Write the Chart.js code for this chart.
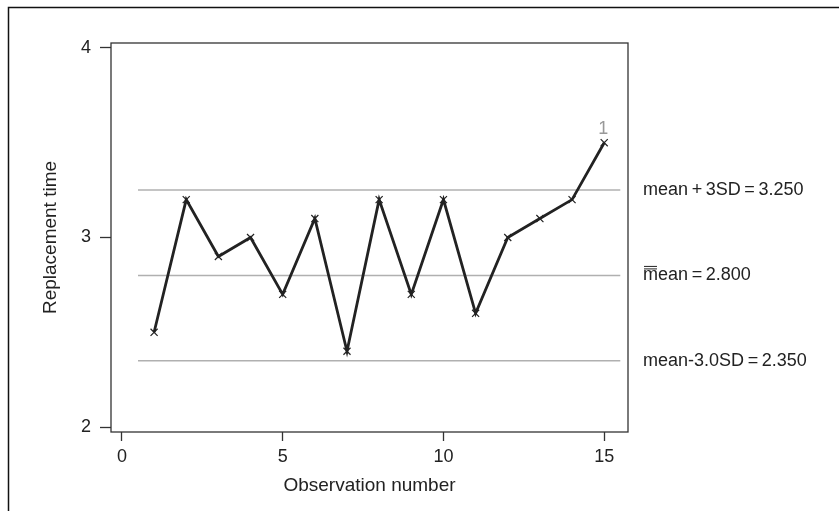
<!DOCTYPE html>
<html>
<head>
<meta charset="utf-8">
<script src="https://cdn.jsdelivr.net/npm/chart.js@4"></script>
<style>
  html, body { margin: 0; padding: 0; background: #fff; }
  #wrap { width: 839px; height: 511px; }
</style>
</head>
<body>
<div id="wrap"><canvas id="grafico"></canvas></div>
<script>
// datos
const observaciones = [1, 2, 3, 4, 5, 6, 7, 8, 9, 10, 11, 12, 13, 14, 15];
const tiempos = [2.5, 3.2, 2.9, 3.0, 2.7, 3.1, 2.4, 3.2, 2.7, 3.2, 2.6, 3.0, 3.1, 3.2, 3.5];
const limites = [3.25, 2.8, 2.35];
// espacios finos alrededor de + y = como en el original
const limitesTexto = ['mean\u2009+\u20093SD\u2009=\u20093.250', 'mean\u2009=\u20092.800', 'mean-3.0SD\u2009=\u20092.350'];
const limitesDesde = 0.5, limitesHasta = 15.5;
const xTicks = [0, 5, 10, 15];
const yTicks = [2, 3, 4];
const fuera = [{ index: 14, label: '1' }]; // punto fuera de control

const fuente = '"Liberation Sans", Arial, sans-serif';
const negro = '#222';

// marco, etiquetas de limites y marca "1"
const extras = {
  id: 'extras',
  afterDraw(chart) {
    const c = chart.ctx, a = chart.chartArea;
    const x = chart.scales.x, y = chart.scales.y;
    c.save();
    // marco exterior (solo izquierda y arriba visibles)
    c.strokeStyle = '#111';
    c.lineWidth = 1.5;
    c.beginPath();
    c.moveTo(8.5, 511); c.lineTo(8.5, 7.5); c.lineTo(839, 7.5);
    c.stroke();
    // caja del grafico
    c.strokeStyle = '#333';
    c.lineWidth = 1.3;
    c.strokeRect(a.left, a.top, a.right - a.left, a.bottom - a.top);
    // textos de limites
    c.fillStyle = negro;
    c.font = '18px ' + fuente;
    c.textBaseline = 'middle';
    c.textAlign = 'left';
    limites.forEach((v, i) => {
      const py = y.getPixelForValue(v);
      c.fillText(limitesTexto[i], 643, py);
      if (i === 1) {
        // doble barra sobre la m
        const w = c.measureText('m').width;
        c.lineWidth = 1;
        c.strokeStyle = negro;
        c.beginPath();
        c.moveTo(644, py - 6.5); c.lineTo(642 + w, py - 6.5);
        c.moveTo(644, py - 9); c.lineTo(642 + w, py - 9);
        c.stroke();
      }
    });
    // etiqueta del punto fuera de control
    c.fillStyle = '#999';
    c.textAlign = 'center';
    c.textBaseline = 'bottom';
    fuera.forEach(f => {
      c.fillText(f.label, x.getPixelForValue(observaciones[f.index]) - 1, y.getPixelForValue(tiempos[f.index]) - 5);
    });
    c.restore();
  }
};

const lineasLimite = limites.map(v => ({
  data: [{ x: limitesDesde, y: v }, { x: limitesHasta, y: v }],
  borderColor: '#b0b0b0',
  borderWidth: 1.5,
  pointRadius: 0,
  order: 2
}));

const ctx = document.getElementById('grafico');
new Chart(ctx, {
  type: 'line',
  data: {
    datasets: [
      ...lineasLimite,
      {
        data: observaciones.map((o, i) => ({ x: o, y: tiempos[i] })),
        borderColor: negro,
        borderWidth: 2.8,
        pointStyle: 'crossRot',
        pointRadius: 5,
        pointBorderWidth: 1.2,
        pointBorderColor: negro,
        order: 1
      }
    ]
  },
  options: {
    responsive: true,
    maintainAspectRatio: false,
    animation: false,
    events: [],
    layout: { padding: { left: 0, top: 43, right: 211, bottom: 0 } },
    plugins: { legend: { display: false }, tooltip: { enabled: false } },
    scales: {
      x: {
        type: 'linear',
        min: -0.34, max: 15.74,
        afterBuildTicks: s => { s.ticks = xTicks.map(v => ({ value: v })); },
        afterFit: s => { s.height = 79; },
        grid: { drawOnChartArea: false, drawTicks: true, tickLength: 9, tickColor: '#333', tickWidth: 1.3 },
        border: { display: false },
        ticks: { color: negro, font: { family: fuente, size: 18 }, padding: 5, maxRotation: 0 },
        title: { display: true, text: 'Observation number', color: negro, font: { family: fuente, size: 19 }, padding: { top: 0, bottom: 14 } }
      },
      y: {
        min: 1.974, max: 4.026,
        afterBuildTicks: s => { s.ticks = yTicks.map(v => ({ value: v })); },
        afterFit: s => { s.width = 111; },
        grid: { drawOnChartArea: false, drawTicks: true, tickLength: 11, tickColor: '#333', tickWidth: 1.3 },
        border: { display: false },
        ticks: { color: negro, font: { family: fuente, size: 18 }, padding: 9 },
        title: { display: true, text: 'Replacement time', color: negro, font: { family: fuente, size: 19 }, padding: { top: 39, bottom: 0 } }
      }
    }
  },
  plugins: [extras]
});
</script>
</body>
</html>
